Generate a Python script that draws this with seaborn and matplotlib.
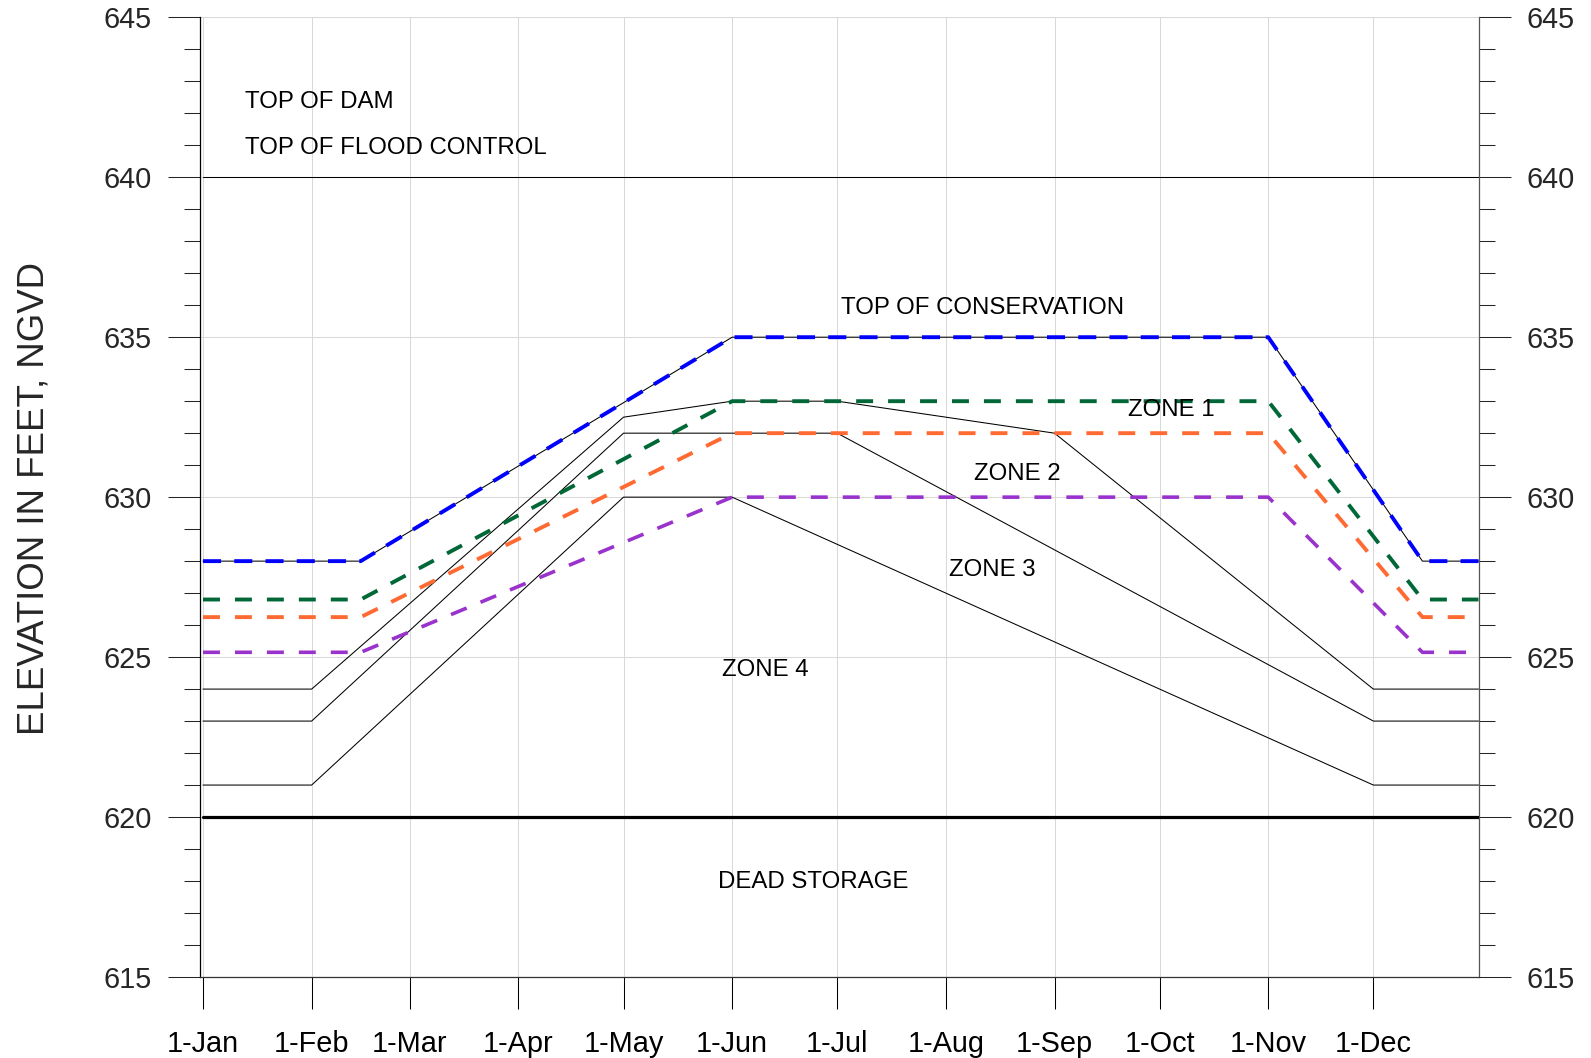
import matplotlib
matplotlib.use("Agg")
import matplotlib.pyplot as plt
import numpy as np
import pandas as pd
import seaborn as sns
from matplotlib.ticker import FixedLocator, MultipleLocator

# ---------------- data ----------------
month_dates = ["01-01", "02-01", "03-01", "04-01", "05-01", "06-01",
               "07-01", "08-01", "09-01", "10-01", "11-01", "12-01"]
month_labels = ["1-Jan", "1-Feb", "1-Mar", "1-Apr", "1-May", "1-Jun",
                "1-Jul", "1-Aug", "1-Sep", "1-Oct", "1-Nov", "1-Dec"]

guide_dates = ["01-01", "02-15", "06-01", "11-01", "12-15", "12-31"]
conservation_elev = [628, 628, 635, 635, 628, 628]
zone1_top_elev = [626.8, 626.8, 633, 633, 626.8, 626.8]
zone2_top_elev = [626.25, 626.25, 632, 632, 626.25, 626.25]
zone3_top_elev = [625.15, 625.15, 630, 630, 625.15, 625.15]

rule_a_dates = ["01-01", "02-01", "05-01", "06-01", "07-01", "09-01", "12-01", "12-31"]
rule_a_elev = [624, 624, 632.5, 633, 633, 632, 624, 624]
rule_b_dates = ["01-01", "02-01", "05-01", "07-01", "12-01", "12-31"]
rule_b_elev = [623, 623, 632, 632, 623, 623]
rule_c_dates = ["01-01", "02-01", "05-01", "06-01", "12-01", "12-31"]
rule_c_elev = [621, 621, 630, 630, 621, 621]

year_dates = ["01-01", "12-31"]
flood_control_elev = [640, 640]
dead_storage_elev = [620, 620]

labels_text = ["TOP OF DAM", "TOP OF FLOOD CONTROL", "TOP OF CONSERVATION",
               "ZONE 1", "ZONE 2", "ZONE 3", "ZONE 4", "DEAD STORAGE"]
labels_date = ["01-13", "01-13", "07-02", "09-22", "08-09", "08-02", "05-29", "05-28"]
labels_elev = [642.16, 640.72, 635.71, 632.54, 630.54, 627.54, 624.42, 617.79]


def doy(d):
    return pd.Timestamp("2001-" + d).dayofyear - 1


def days(lst):
    return [doy(d) for d in lst]


# ---------------- style ----------------
sns.set_style("white")
plt.rcParams["font.family"] = ["Liberation Sans", "DejaVu Sans"]
plt.rcParams["lines.scale_dashes"] = False

fig = plt.figure(figsize=(15.91, 10.58), dpi=100)
ax = fig.add_axes([200 / 1591, 1 - 977 / 1058, 1278.5 / 1591, 959.7 / 1058])

thin = 0.75
dash = (0, (12.2, 10.8))

# reference lines
sns.lineplot(x=days(year_dates), y=flood_control_elev, ax=ax, color="black", lw=thin, zorder=3)
sns.lineplot(x=days(year_dates), y=dead_storage_elev, ax=ax, color="black", lw=2.3, zorder=3)

# rule curves (thin black)
sns.lineplot(x=days(guide_dates), y=conservation_elev, ax=ax, color="black", lw=thin, zorder=3)
sns.lineplot(x=days(rule_a_dates), y=rule_a_elev, ax=ax, color="black", lw=thin, zorder=3)
sns.lineplot(x=days(rule_b_dates), y=rule_b_elev, ax=ax, color="black", lw=thin, zorder=3)
sns.lineplot(x=days(rule_c_dates), y=rule_c_elev, ax=ax, color="black", lw=thin, zorder=3)

# dashed zone tops
sns.lineplot(x=days(guide_dates), y=conservation_elev, ax=ax, color="#0000FF", lw=2.8,
             linestyle=(0, (13, 9.5)), zorder=4)
sns.lineplot(x=days(guide_dates), y=zone1_top_elev, ax=ax, color="#006837", lw=2.8,
             linestyle=dash, zorder=4)
sns.lineplot(x=days(guide_dates), y=zone2_top_elev, ax=ax, color="#FF6A33", lw=2.8,
             linestyle=dash, zorder=4)
sns.lineplot(x=days(guide_dates), y=zone3_top_elev, ax=ax, color="#9933CC", lw=2.6,
             linestyle=dash, zorder=4)

for s, d, e in zip(labels_text, labels_date, labels_elev):
    ax.text(doy(d), e, s, fontsize=17.3, ha="left", va="baseline", color="black", zorder=5)

# ---------------- axes ----------------
ax.set_xlim(-0.86, 364)
ax.set_ylim(615, 645)

ax.xaxis.set_major_locator(FixedLocator(days(month_dates)))
ax.set_xticklabels(month_labels)
ax.yaxis.set_major_locator(MultipleLocator(5))
ax.yaxis.set_minor_locator(MultipleLocator(1))
ax.yaxis.set_ticks_position("both")

ax.tick_params(axis="x", which="major", direction="out", length=23, width=0.75,
               labelsize=20.8, pad=15.5, colors="black", bottom=True)
ax.tick_params(axis="y", which="major", direction="out", length=23, width=0.75,
               labelsize=20.8, pad=11.5, labelleft=True, labelright=True, left=True, right=True)
ax.tick_params(axis="y", which="minor", direction="out", length=11.5, width=0.75,
               left=True, right=True)

ax.grid(True, which="major", color="#d9d9d9", lw=0.75, zorder=0)
ax.set_axisbelow(True)

ax.spines["top"].set_visible(False)
ax.spines["left"].set_color("black")
ax.spines["left"].set_linewidth(0.9)
ax.spines["bottom"].set_color("#333333")
ax.spines["bottom"].set_linewidth(0.9)
ax.spines["right"].set_color("#555555")
ax.spines["right"].set_linewidth(0.9)

ax.set_xlabel("")
ax.set_ylabel("ELEVATION IN FEET, NGVD", fontsize=26.4)
ax.yaxis.set_label_coords(-0.1165, 0.5 + (496 - 497) / 960)

fig.savefig("out.png", dpi=100)
